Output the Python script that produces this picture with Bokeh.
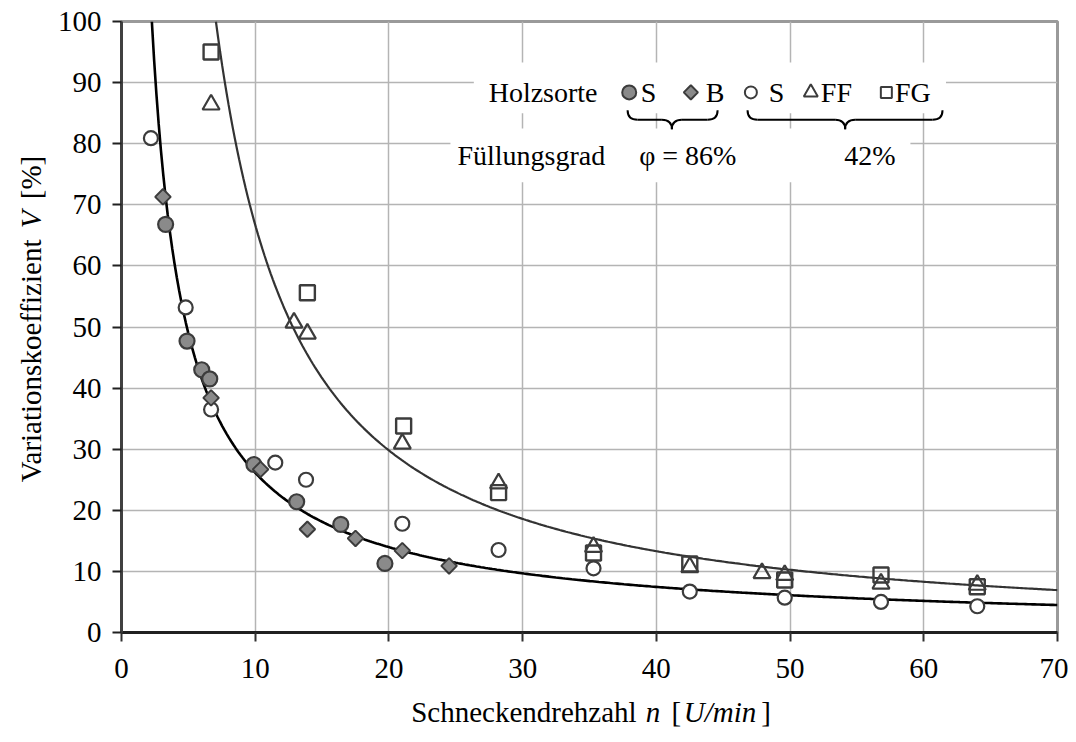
import numpy as np
from bokeh.plotting import figure
from bokeh.layouts import column, row
from bokeh.models import Range1d, FixedTicker
from bokeh.core.properties import value
from bokeh.embed import file_html
from bokeh.resources import INLINE

# ---------------- data ----------------
# Füllungsgrad 86 %
s86_n = [3.3, 4.9, 6.0, 6.6, 9.9, 13.1, 16.4, 19.7]
s86_v = [66.8, 47.7, 43.0, 41.5, 27.5, 21.4, 17.7, 11.3]
b86_n = [3.1, 6.7, 10.4, 13.9, 17.5, 21.0, 24.5]
b86_v = [71.3, 38.4, 26.7, 16.9, 15.4, 13.4, 10.9]
# Füllungsgrad 42 %
s42_n = [2.2, 4.8, 6.7, 11.5, 13.8, 21.0, 28.2, 35.3, 42.5, 49.6, 56.8, 64.0]
s42_v = [80.9, 53.2, 36.5, 27.8, 25.0, 17.8, 13.5, 10.5, 6.7, 5.7, 5.0, 4.3]
ff42_n = [6.7, 12.9, 13.9, 21.0, 28.2, 35.3, 42.5, 47.9, 49.6, 56.8, 64.0]
ff42_v = [86.4, 50.7, 48.9, 30.9, 24.4, 14.0, 10.7, 9.7, 9.4, 8.0, 7.8]
fg42_n = [6.7, 13.9, 21.1, 28.2, 35.3, 42.5, 49.6, 56.8, 64.0]
fg42_v = [95.0, 55.6, 33.8, 22.9, 13.0, 11.2, 8.6, 9.4, 7.5]
# power-law trend lines V = a * n^b
fit_lower = (209.9, -0.9045)
fit_upper = (971.0, -1.163)

x_ticks = [0, 10, 20, 30, 40, 50, 60, 70]
y_ticks = [0, 10, 20, 30, 40, 50, 60, 70, 80, 90, 100]

FONT = "Liberation Serif"
EDGE = "#3c3c3c"
GRAYFILL = "#8a8a8a"

# layout geometry (px)
YW = 50            # width of the y-title strip
LB = 71            # main plot left border
FW, FH = 936, 611  # frame
TOP, BOT, RB = 21, 60, 11
XH = 48            # height of the x-title strip
MAINW = LB + FW + RB
MAINH = TOP + FH + BOT

xr = Range1d(0, 70)
yr = Range1d(0, 100)

p = figure(width=MAINW, height=MAINH, frame_width=FW, frame_height=FH,
           min_border_left=LB, min_border_right=RB, min_border_top=TOP,
           min_border_bottom=BOT, x_range=xr, y_range=yr,
           output_backend="svg", toolbar_location=None, background_fill_color="white")

p.outline_line_color = "#9a9a9a"
p.outline_line_width = 3

for g in (p.xgrid, p.ygrid):
    g.grid_line_color = "#b4b4b4"
    g.grid_line_width = 1.5
p.xgrid.ticker = FixedTicker(ticks=x_ticks)
p.ygrid.ticker = FixedTicker(ticks=y_ticks)

p.xaxis.ticker = FixedTicker(ticks=x_ticks)
p.yaxis.ticker = FixedTicker(ticks=y_ticks)
for ax in (p.xaxis[0], p.yaxis[0]):
    ax.axis_line_width = 3
    ax.major_tick_out = 9
    ax.major_tick_in = 0
    ax.major_tick_line_width = 2
    ax.minor_tick_line_color = None
    ax.major_label_text_font = FONT
    ax.major_label_text_font_size = "29px"
    ax.major_label_text_color = "black"
p.xaxis.axis_line_color = "#202020"
p.xaxis.major_tick_line_color = "#303030"
p.yaxis.axis_line_color = "#404040"
p.yaxis.major_tick_line_color = "#202020"
p.xaxis.major_label_standoff = 17
p.yaxis.major_label_standoff = 11

# ---------------- legend background boxes ----------------
p.quad(left=[26.35, 24.6], right=[61.66, 59.0], bottom=[85.0, 73.7], top=[93.3, 82.5],
       fill_color="white", line_color=None)

# ---------------- trend lines ----------------
def curve(a, b):
    n0 = (100.0 / a) ** (1.0 / b)
    n = np.linspace(n0, 70, 400)
    return n, a * n ** b

xl, yl = curve(*fit_lower)
xu, yu = curve(*fit_upper)
p.line(xu, yu, line_color="#333333", line_width=2.2)
p.line(xl, yl, line_color="black", line_width=2.6)

# ---------------- points ----------------
p.scatter(s42_n, s42_v, marker="circle", size=14, fill_color="white", line_color=EDGE, line_width=2.2)
p.scatter(ff42_n, ff42_v, marker="triangle", size=17, fill_color=None, line_color=EDGE, line_width=2.2)
p.scatter(fg42_n, fg42_v, marker="square", size=15, fill_color=None, line_color=EDGE, line_width=2.4)
p.scatter(s86_n, s86_v, marker="circle", size=15, fill_color=GRAYFILL, line_color=EDGE, line_width=2.2)
p.scatter(b86_n, b86_v, marker="square", angle=np.pi / 4, size=11, fill_color=GRAYFILL,
          line_color=EDGE, line_width=2.0)

# ---------------- legend (drawn as text + markers) ----------------
ROW1 = 88.4
ROW2 = 78.1
LFS = "28px"

def txt(fig, x, y, t, align="left", style="normal", size=LFS, angle=0.0):
    fig.text(x=[x], y=[y], text=[t], text_font=value(FONT), text_font_size=value(size),
             text_font_style=style, text_align=align, text_baseline="middle",
             text_color="black", angle=angle)

txt(p, 35.6, ROW1, "Holzsorte", align="right")
p.scatter([37.97], [ROW1], marker="circle", size=14, fill_color=GRAYFILL, line_color=EDGE, line_width=2)
txt(p, 38.84, ROW1, "S")
p.scatter([42.58], [ROW1], marker="square", angle=np.pi / 4, size=10, fill_color=GRAYFILL,
          line_color=EDGE, line_width=2)
txt(p, 43.7, ROW1, "B")
p.scatter([47.07], [ROW1], marker="circle", size=12, fill_color="white", line_color=EDGE, line_width=2)
txt(p, 48.41, ROW1, "S")
p.scatter([51.55], [ROW1], marker="triangle", size=14, fill_color=None, line_color=EDGE, line_width=2)
txt(p, 52.3, ROW1, "FF")
p.scatter([57.2], [ROW1], marker="square", size=11, fill_color=None, line_color=EDGE, line_width=2)
txt(p, 57.85, ROW1, "FG")

txt(p, 30.65, ROW2, "Füllungsgrad", align="center")
txt(p, 42.35, ROW2, "φ = 86%", align="center")
txt(p, 55.97, ROW2, "42%", align="center")

# curly braces
SX, SY = FW / 70.0, FH / 100.0   # px per data unit
def brace(x0, x1, xc, ytop_px):
    r = 10.0 / SX
    yt = 100 - (ytop_px - 21.3) / SY
    ym = yt - 9.5 / SY
    yb = yt - 19.0 / SY
    p.quadratic(x0=[x0, xc - r, x1, xc + r], y0=[yt, ym, yt, ym],
                x1=[x0 + r, xc, x1 - r, xc], y1=[ym, yb, ym, yb],
                cx=[x0, xc, x1, xc], cy=[ym, ym, ym, ym],
                line_color="black", line_width=2)
    p.segment(x0=[x0 + r, xc + r], y0=[ym, ym], x1=[xc - r, x1 - r], y1=[ym, ym],
              line_color="black", line_width=2)

brace(37.85, 44.58, 41.16, 110)
brace(46.82, 61.4, 54.12, 110)

# ---------------- y-title strip ----------------
yf = figure(width=YW, height=MAINH, frame_width=YW, frame_height=FH,
            min_border_left=0, min_border_right=0, min_border_top=TOP, min_border_bottom=BOT,
            x_range=Range1d(0, YW), y_range=yr, x_axis_type=None, y_axis_type=None,
            output_backend="svg", toolbar_location=None)
yf.outline_line_color = None
yf.grid.visible = False

def ypx(py):
    return (632.3 - py) / SY

YX = 30
txt(yf, YX, ypx(482), "Variationskoeffizient", size="29px", angle=np.pi / 2)
txt(yf, YX, ypx(228), "V", style="italic", size="29px", angle=np.pi / 2)
txt(yf, YX, ypx(199), "[%]", size="29px", angle=np.pi / 2)

# ---------------- x-title strip ----------------
TOTW = YW + MAINW
xf = figure(width=TOTW, height=XH, frame_width=FW, frame_height=XH,
            min_border_left=YW + LB, min_border_right=RB, min_border_top=0, min_border_bottom=0,
            x_range=xr, y_range=Range1d(0, XH), x_axis_type=None, y_axis_type=None,
            output_backend="svg", toolbar_location=None)
xf.outline_line_color = None
xf.grid.visible = False

def xpx(px):
    return (px - 120.7) / SX

XT = XH - 19
txt(xf, xpx(410.4), XT, "Schneckendrehzahl", size="29px")
txt(xf, xpx(645), XT, "n", style="italic", size="29px")
txt(xf, xpx(670.6), XT, "[", size="29px")
txt(xf, xpx(683), XT, "U/min", style="italic", size="29px")
txt(xf, xpx(760.5), XT, "]", size="29px")

layout = column(row(yf, p, spacing=0), xf, spacing=0)
open("out.html", "w").write(file_html(layout, INLINE))
